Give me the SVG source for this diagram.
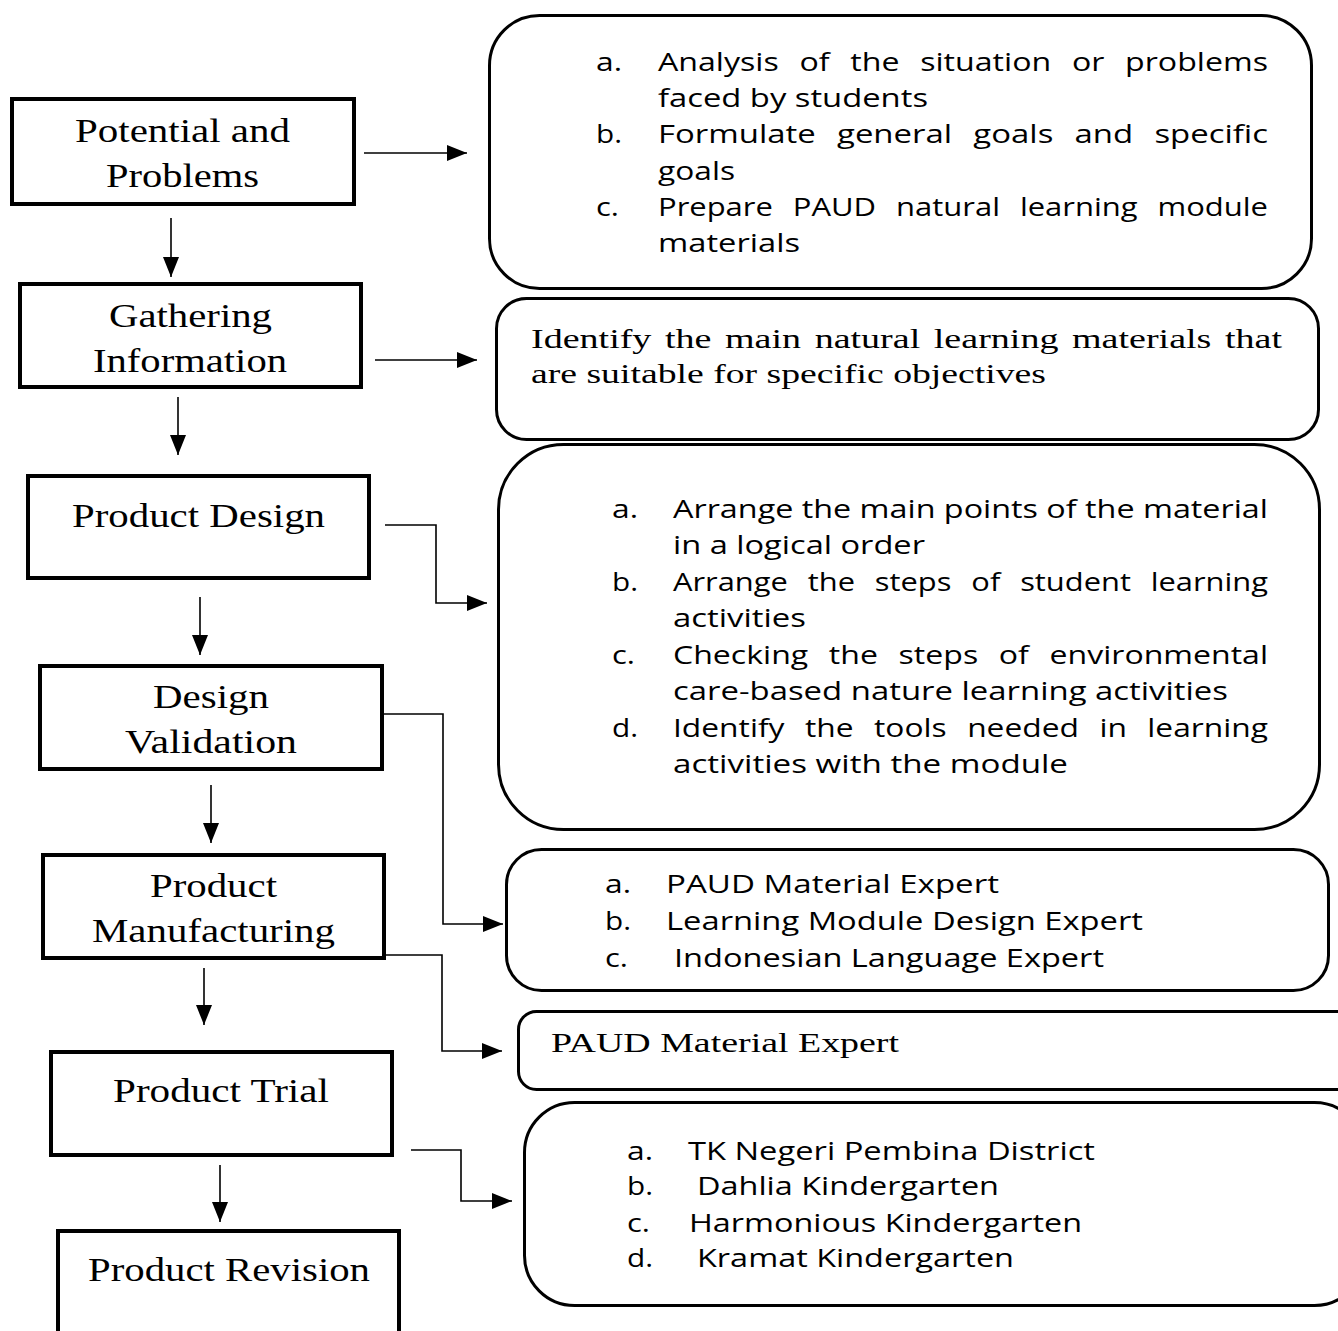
<svg xmlns="http://www.w3.org/2000/svg" width="1338" height="1331" viewBox="0 0 1338 1331">
<style>
.step{fill:#fff;stroke:#000;stroke-width:4}
.info{fill:#fff;stroke:#000;stroke-width:3}
.serif{font-family:"Liberation Serif","Times New Roman",serif;fill:#000}
.lbl{font-size:33px}
.ser2{font-size:28px}
.sans{font-family:"Open Sans","Liberation Sans",sans-serif;font-size:26px;fill:#000}
.j{word-spacing:10px}
.js{word-spacing:3px}
.conn path{fill:none;stroke:#000;stroke-width:1.6}
</style>
<defs>
<marker id="ah" viewBox="0 0 20 16" refX="20" refY="8" markerWidth="20" markerHeight="16" markerUnits="userSpaceOnUse" orient="auto">
<path d="M0,0 L20,8 L0,16 z" fill="#000"/>
</marker>
</defs>
<rect width="1338" height="1331" fill="#fff"/>

<g id="potential">
<rect class="step" x="12" y="99" width="342" height="105"/>
<text class="serif lbl" x="75" y="142" textLength="215" lengthAdjust="spacingAndGlyphs">Potential and</text>
<text class="serif lbl" x="106" y="187" textLength="153" lengthAdjust="spacingAndGlyphs">Problems</text>
</g>
<g id="gathering">
<rect class="step" x="20" y="284" width="341" height="103"/>
<text class="serif lbl" x="109" y="327" textLength="163" lengthAdjust="spacingAndGlyphs">Gathering</text>
<text class="serif lbl" x="93" y="372" textLength="194" lengthAdjust="spacingAndGlyphs">Information</text>
</g>
<g id="design">
<rect class="step" x="28" y="476" width="341" height="102"/>
<text class="serif lbl" x="72" y="527" textLength="253" lengthAdjust="spacingAndGlyphs">Product Design</text>
</g>
<g id="validation">
<rect class="step" x="40" y="666" width="342" height="103"/>
<text class="serif lbl" x="153" y="708" textLength="116" lengthAdjust="spacingAndGlyphs">Design</text>
<text class="serif lbl" x="125" y="753" textLength="172" lengthAdjust="spacingAndGlyphs">Validation</text>
</g>
<g id="manufacturing">
<rect class="step" x="43" y="855" width="341" height="103"/>
<text class="serif lbl" x="150" y="897" textLength="127" lengthAdjust="spacingAndGlyphs">Product</text>
<text class="serif lbl" x="92" y="942" textLength="243" lengthAdjust="spacingAndGlyphs">Manufacturing</text>
</g>
<g id="trial">
<rect class="step" x="51" y="1052" width="341" height="103"/>
<text class="serif lbl" x="113" y="1102" textLength="216" lengthAdjust="spacingAndGlyphs">Product Trial</text>
</g>
<g id="revision">
<rect class="step" x="58" y="1231" width="341" height="130"/>
<text class="serif lbl" x="88" y="1281" textLength="282" lengthAdjust="spacingAndGlyphs">Product Revision</text>
</g>

<g id="info-analysis">
<rect class="info" x="489.5" y="15.5" width="822" height="273" rx="50"/>
<text class="sans" x="596" y="71" textLength="26" lengthAdjust="spacingAndGlyphs">a.</text>
<text class="sans j" x="658" y="71" textLength="610" lengthAdjust="spacingAndGlyphs">Analysis of the situation or problems</text>
<text class="sans" x="658" y="107" textLength="270" lengthAdjust="spacingAndGlyphs">faced by students</text>
<text class="sans" x="596" y="143" textLength="26" lengthAdjust="spacingAndGlyphs">b.</text>
<text class="sans j" x="658" y="143" textLength="610" lengthAdjust="spacingAndGlyphs">Formulate general goals and specific</text>
<text class="sans" x="658" y="180" textLength="77" lengthAdjust="spacingAndGlyphs">goals</text>
<text class="sans" x="596" y="216" textLength="23" lengthAdjust="spacingAndGlyphs">c.</text>
<text class="sans j" x="658" y="216" textLength="610" lengthAdjust="spacingAndGlyphs">Prepare PAUD natural learning module</text>
<text class="sans" x="658" y="252" textLength="142" lengthAdjust="spacingAndGlyphs">materials</text>
</g>
<g id="info-identify">
<rect class="info" x="496.5" y="298.5" width="822" height="141" rx="30"/>
<text class="serif ser2 js" x="531" y="348" textLength="751" lengthAdjust="spacingAndGlyphs">Identify the main natural learning materials that</text>
<text class="serif ser2" x="531" y="383" textLength="515" lengthAdjust="spacingAndGlyphs">are suitable for specific objectives</text>
</g>
<g id="info-arrange">
<rect class="info" x="498.5" y="444.5" width="821" height="385" rx="65"/>
<text class="sans" x="612" y="518" textLength="26" lengthAdjust="spacingAndGlyphs">a.</text>
<text class="sans" x="673" y="518" textLength="595" lengthAdjust="spacingAndGlyphs">Arrange the main points of the material</text>
<text class="sans" x="673" y="554" textLength="252" lengthAdjust="spacingAndGlyphs">in a logical order</text>
<text class="sans" x="612" y="591" textLength="26" lengthAdjust="spacingAndGlyphs">b.</text>
<text class="sans j" x="673" y="591" textLength="595" lengthAdjust="spacingAndGlyphs">Arrange the steps of student learning</text>
<text class="sans" x="673" y="627" textLength="133" lengthAdjust="spacingAndGlyphs">activities</text>
<text class="sans" x="612" y="664" textLength="23" lengthAdjust="spacingAndGlyphs">c.</text>
<text class="sans j" x="673" y="664" textLength="595" lengthAdjust="spacingAndGlyphs">Checking the steps of environmental</text>
<text class="sans" x="673" y="700" textLength="555" lengthAdjust="spacingAndGlyphs">care-based nature learning activities</text>
<text class="sans" x="612" y="737" textLength="26" lengthAdjust="spacingAndGlyphs">d.</text>
<text class="sans j" x="673" y="737" textLength="595" lengthAdjust="spacingAndGlyphs">Identify the tools needed in learning</text>
<text class="sans" x="673" y="773" textLength="395" lengthAdjust="spacingAndGlyphs">activities with the module</text>
</g>
<g id="info-experts">
<rect class="info" x="506.5" y="849.5" width="822" height="141" rx="35"/>
<text class="sans" x="605" y="893" textLength="26" lengthAdjust="spacingAndGlyphs">a.</text>
<text class="sans" x="666" y="893" textLength="333" lengthAdjust="spacingAndGlyphs">PAUD Material Expert</text>
<text class="sans" x="605" y="930" textLength="26" lengthAdjust="spacingAndGlyphs">b.</text>
<text class="sans" x="666" y="930" textLength="477" lengthAdjust="spacingAndGlyphs">Learning Module Design Expert</text>
<text class="sans" x="605" y="967" textLength="23" lengthAdjust="spacingAndGlyphs">c.</text>
<text class="sans" x="674" y="967" textLength="430" lengthAdjust="spacingAndGlyphs">Indonesian Language Expert</text>
</g>
<g id="info-paud">
<rect class="info" x="518.5" y="1011.5" width="840" height="78" rx="18"/>
<text class="serif ser2" x="551" y="1052" textLength="348" lengthAdjust="spacingAndGlyphs">PAUD Material Expert</text>
</g>
<g id="info-schools">
<rect class="info" x="524.5" y="1102.5" width="840" height="203" rx="50"/>
<text class="sans" x="627" y="1160" textLength="26" lengthAdjust="spacingAndGlyphs">a.</text>
<text class="sans" x="688" y="1160" textLength="407" lengthAdjust="spacingAndGlyphs">TK Negeri Pembina District</text>
<text class="sans" x="627" y="1195" textLength="26" lengthAdjust="spacingAndGlyphs">b.</text>
<text class="sans" x="697" y="1195" textLength="302" lengthAdjust="spacingAndGlyphs">Dahlia Kindergarten</text>
<text class="sans" x="627" y="1232" textLength="23" lengthAdjust="spacingAndGlyphs">c.</text>
<text class="sans" x="689" y="1232" textLength="393" lengthAdjust="spacingAndGlyphs">Harmonious Kindergarten</text>
<text class="sans" x="627" y="1267" textLength="26" lengthAdjust="spacingAndGlyphs">d.</text>
<text class="sans" x="697" y="1267" textLength="317" lengthAdjust="spacingAndGlyphs">Kramat Kindergarten</text>
</g>

<g id="connectors" class="conn">
<path d="M364,153 H467" marker-end="url(#ah)"/>
<path d="M171,218 V277" marker-end="url(#ah)"/>
<path d="M375,360 H477" marker-end="url(#ah)"/>
<path d="M178,397 V455" marker-end="url(#ah)"/>
<path d="M385,525 H436 V603 H487" marker-end="url(#ah)"/>
<path d="M200,597 V655" marker-end="url(#ah)"/>
<path d="M384,714 H443 V924 H503" marker-end="url(#ah)"/>
<path d="M211,785 V843" marker-end="url(#ah)"/>
<path d="M386,955 H442 V1051 H502" marker-end="url(#ah)"/>
<path d="M204,968 V1025" marker-end="url(#ah)"/>
<path d="M411,1150 H461 V1201 H512" marker-end="url(#ah)"/>
<path d="M220,1165 V1222" marker-end="url(#ah)"/>
</g>
</svg>
